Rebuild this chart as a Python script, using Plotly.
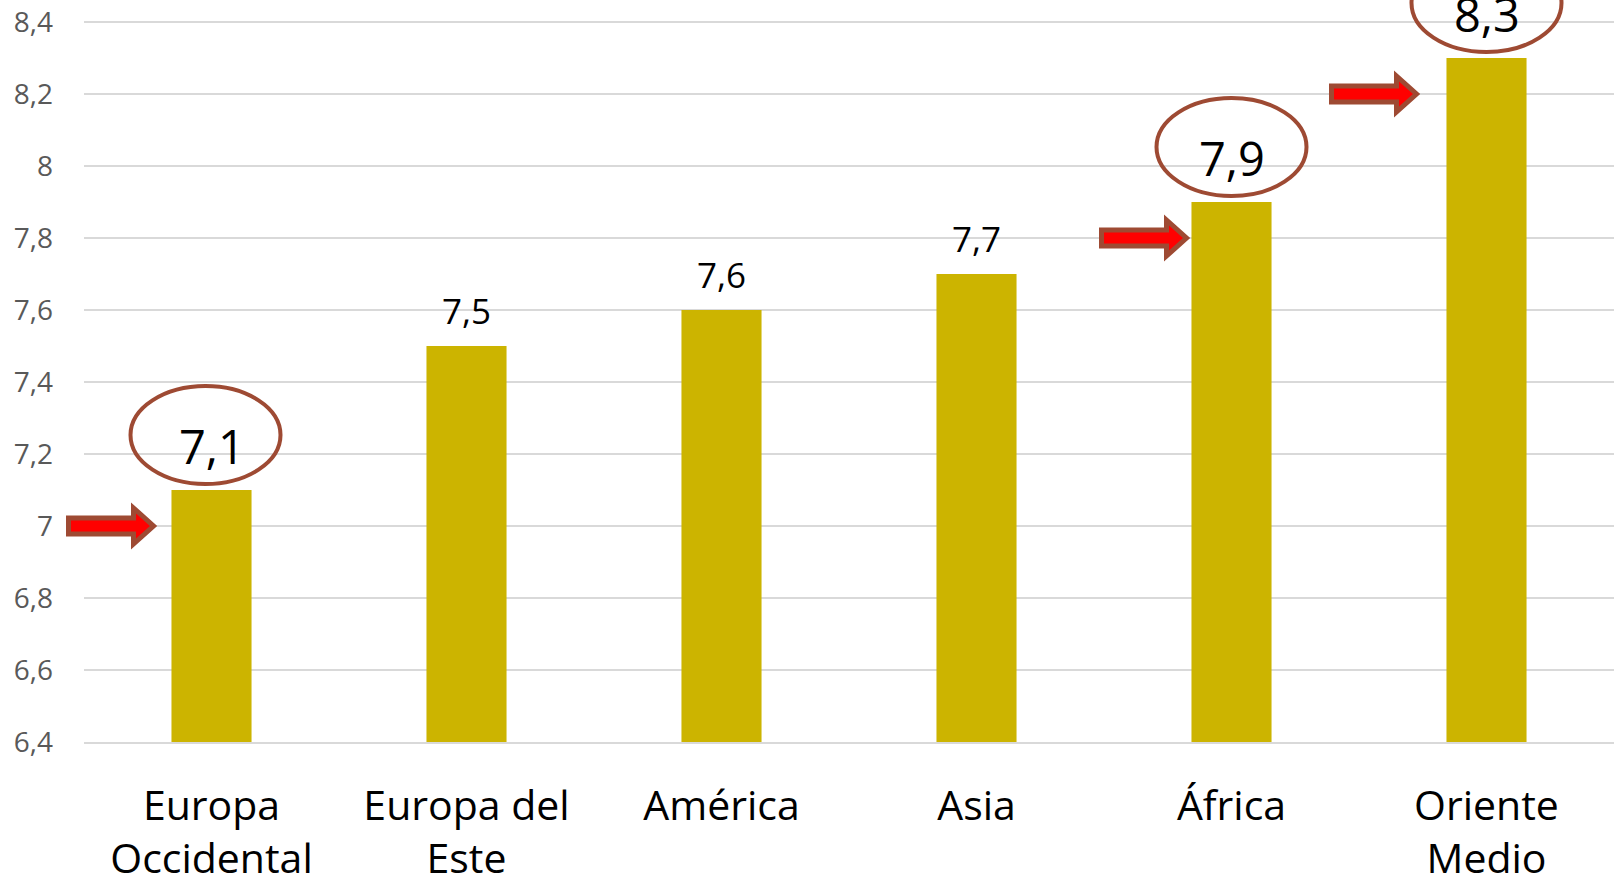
import plotly.graph_objects as go

categories = ["Europa Occidental", "Europa del Este", "América", "Asia", "África", "Oriente Medio"]
category_labels = ["Europa<br>Occidental", "Europa del<br>Este", "América", "Asia", "África", "Oriente<br>Medio"]
values = [7.1, 7.5, 7.6, 7.7, 7.9, 8.3]
highlighted = ["Europa Occidental", "África", "Oriente Medio"]
tick_vals = [6.4, 6.6, 6.8, 7.0, 7.2, 7.4, 7.6, 7.8, 8.0, 8.2, 8.4]
tick_text = ["6,4", "6,6", "6,8", "7", "7,2", "7,4", "7,6", "7,8", "8", "8,2", "8,4"]

BAR = "#CCB400"
GRID = "#D9D9D9"
BROWN = "#9E4A33"
RED = "#FF0000"
FONT = "Open Sans"

# distance (px) from bar centre to arrow tip, and ellipse horizontal nudge
arrow_gap = {"Europa Occidental": 58, "África": 45, "Oriente Medio": 70}
ellipse_dx = {"Europa Occidental": -6, "África": 0, "Oriente Medio": 0}

fig = go.Figure(
    go.Bar(
        x=categories,
        y=values,
        marker=dict(color=BAR, line=dict(width=0)),
        hoverinfo="skip",
    )
)

# value labels
for name, v in zip(categories, values):
    big = name in highlighted
    fig.add_annotation(
        x=name,
        y=v,
        text=f"{v:.1f}".replace(".", ","),
        showarrow=False,
        yanchor="middle",
        yshift=44 if big else 36,
        font=dict(family=FONT, size=47 if big else 35, color="black"),
    )

# ellipses and block arrows
for name in highlighted:
    i = categories.index(name)
    v = values[i]
    dx = ellipse_dx[name]
    fig.add_shape(
        type="circle",
        xref="x", yref="y",
        xsizemode="pixel", ysizemode="pixel",
        xanchor=name, yanchor=v,
        x0=-75 + dx, x1=75 + dx, y0=6, y1=104,
        line=dict(color=BROWN, width=4),
        layer="above",
    )
    t = -arrow_gap[name]
    path = (
        f"M {t - 85},8 L {t - 20},8 L {t - 20},18 L {t},0 "
        f"L {t - 20},-18 L {t - 20},-8 L {t - 85},-8 Z"
    )
    fig.add_shape(
        type="path",
        xref="x domain", yref="y",
        xsizemode="pixel", ysizemode="pixel",
        xanchor=(i + 0.5) / len(categories), yanchor=v - 0.1,
        path=path,
        fillcolor=RED,
        line=dict(color=BROWN, width=5),
        layer="above",
    )

fig.update_layout(
    width=1614,
    height=882,
    margin=dict(l=84, r=0, t=0, b=140),
    paper_bgcolor="white",
    plot_bgcolor="white",
    bargap=0.686,
    showlegend=False,
    font=dict(family=FONT),
    xaxis=dict(
        type="category",
        tickvals=categories,
        ticktext=category_labels,
        tickfont=dict(family=FONT, size=41, color="black"),
        showgrid=False,
        showline=True,
        linecolor=GRID,
        linewidth=1.5,
        ticks="",
        ticklabelstandoff=27,
        automargin=False,
    ),
    yaxis=dict(
        range=[6.4, 8.4611],
        tickvals=tick_vals,
        ticktext=tick_text,
        tickfont=dict(family=FONT, size=28, color="#595959"),
        gridcolor=GRID,
        gridwidth=1.5,
        showline=False,
        zeroline=False,
        ticks="",
        ticklabelstandoff=30,
        automargin=False,
    ),
)

fig.write_html(
    "out.html",
    config={"displayModeBar": False},
    post_script="document.body.style.margin='0';",
)
